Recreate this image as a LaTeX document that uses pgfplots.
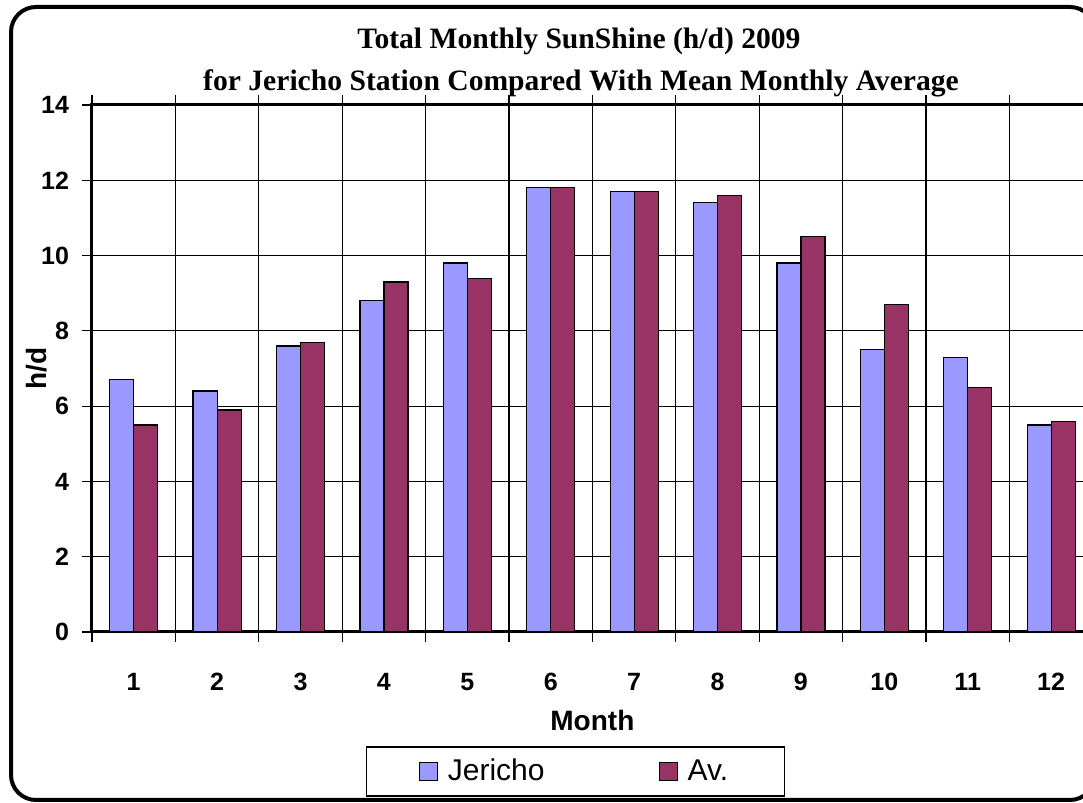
\documentclass[border=0pt]{standalone}
\usepackage{fontspec}
\setmainfont{Liberation Sans}
\newfontfamily\titlefont{Liberation Serif}
\usepackage{pgfplots}
\pgfplotsset{compat=1.18}
\definecolor{jer}{HTML}{9999FF}
\definecolor{avc}{HTML}{993366}
\begin{document}
\begin{tikzpicture}[x=1pt,y=1pt]
\useasboundingbox (0,0) rectangle (541.5,401.5);
\clip (0,0) rectangle (541.5,401.5);
\fill[white] (0,0) rectangle (541.5,401.5);
\draw[line width=2pt, rounded corners=12.5pt] (5.5,1.5) rectangle (547.5,398);
\node[font=\titlefont\bfseries\fontsize{14.8}{17}\selectfont] at (289.5,381) {Total Monthly SunShine (h/d) 2009};
\node[font=\titlefont\bfseries\fontsize{14.8}{17}\selectfont] at (290.5,360) {for Jericho Station Compared With Mean Monthly Average};
\begin{axis}[
  at={(46pt,85.5pt)}, anchor=south west,
  scale only axis, width=500.4pt, height=263.5pt,
  xmin=0.5, xmax=12.5, ymin=0, ymax=14,
  ybar=0pt, bar width=12pt,
  xtick={0.5,1.5,...,12.5}, xticklabels={},
  extra x ticks={1,2,3,4,5,6,7,8,9,10,11,12},
  extra x tick labels={1,2,3,4,5,6,7,8,9,10,11,12},
  extra x tick style={major tick length=0pt, grid=none, xticklabel style={yshift=-17pt}},
  ytick={0,2,...,14},
  tick align=outside,
  major tick length=5pt,
  every tick/.style={black, line width=0.6pt},
  ymajorgrids, xmajorgrids,
  grid style={black, line width=0.6pt},
  axis line style={line width=1.5pt},
  ticklabel style={font=\bfseries\fontsize{12.5}{15}\selectfont},
  /pgf/number format/assume math mode=true,
  yticklabel style={xshift=-3pt},
  xlabel={Month}, ylabel={h/d},
  label style={font=\bfseries\fontsize{14}{17}\selectfont},
  xlabel style={at={(axis description cs:0.5,0)}, anchor=center, yshift=-44pt},
  ylabel style={at={(axis description cs:-0.055,0.5)}, anchor=center},
  legend columns=2,
  legend image code/.code={\draw[#1,/tikz/.cd,line width=0.6pt,draw=black] (0pt,-4.5pt) rectangle (9pt,4.5pt);},
  legend style={at={(axis description cs:0.4831,-0.2647)}, anchor=center, draw=black, line width=0.75pt,
    font=\fontsize{15}{18}\selectfont, inner xsep=26pt, inner ysep=4pt,
    /tikz/every even column/.append style={column sep=55pt},
    /tikz/every odd column/.append style={column sep=3pt}},
]
\addplot[fill=jer, draw=black, line width=0.6pt] coordinates {(1,6.7) (2,6.4) (3,7.6) (4,8.8) (5,9.8) (6,11.8) (7,11.7) (8,11.4) (9,9.8) (10,7.5) (11,7.3) (12,5.5)};
\addplot[fill=avc, draw=black, line width=0.6pt] coordinates {(1,5.5) (2,5.9) (3,7.7) (4,9.3) (5,9.4) (6,11.8) (7,11.7) (8,11.6) (9,10.5) (10,8.7) (11,6.5) (12,5.6)};
\legend{Jericho, Av.}
\end{axis}
\end{tikzpicture}
\end{document}
